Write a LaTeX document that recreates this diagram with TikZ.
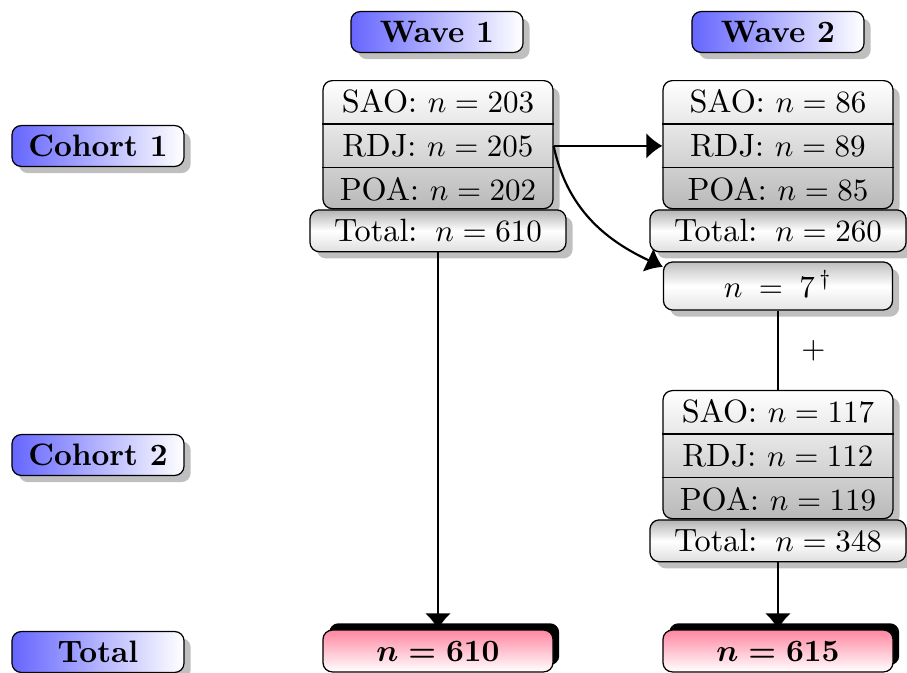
\documentclass[tikz,border=0pt]{standalone}
\usetikzlibrary{shadows,arrows.meta}
\definecolor{pinktop}{RGB}{255,135,162}
\tikzset{
  body/.style={font=\fontsize{10.4pt}{12.5pt}\selectfont},
  hdr/.style={draw, rounded corners=3pt, left color=blue!60, right color=white,
    drop shadow, font=\bfseries, minimum width=55.5pt, minimum height=13.2pt,
    inner sep=0pt, text height=6.8pt, text depth=0pt},
  splitbg/.style={draw, rounded corners=3pt, top color=white, bottom color=gray!55,
    drop shadow, minimum width=74.2pt, minimum height=41.3pt, inner sep=0pt},
  rowbox/.style={body, minimum width=74.2pt, minimum height=13.77pt, inner sep=0pt,
    text height=7.1pt, text depth=0pt},
  sep/.style={line width=0.4pt},
  totbox/.style={body, draw, rounded corners=3pt, top color=gray!60, bottom color=gray!25,
    middle color=white, drop shadow, minimum width=82.6pt, minimum height=13.5pt,
    inner sep=0pt, text height=7.1pt, text depth=0pt},
  sevbox/.style={body, draw, rounded corners=3pt, top color=gray!50, bottom color=gray!20,
    middle color=white, drop shadow, minimum width=73.9pt, minimum height=15.5pt,
    inner sep=0pt, text height=7.1pt, text depth=0pt},
  finbox/.style={draw, rounded corners=3pt, top color=pinktop, bottom color=white,
    drop shadow={shadow xshift=2pt, shadow yshift=2.2pt, opacity=1, fill=black},
    minimum width=74.2pt, minimum height=13.5pt, inner sep=0pt,
    font=\boldmath\bfseries, text height=6.5pt, text depth=0pt},
  arr/.style={line width=0.7pt, -{Latex[length=5.2pt,width=8.4pt]}},
}
\newcommand\mysplit[5]{%
  \node[splitbg, anchor=north] (#1) at (#2) {};
  \node[rowbox, anchor=north] (#1a) at (#1.north) {#3};
  \node[rowbox, anchor=north] (#1b) at (#1a.south) {#4};
  \node[rowbox, anchor=north] (#1c) at (#1b.south) {#5};
  \draw[sep] (#1a.south west) -- (#1a.south east);
  \draw[sep] (#1b.south west) -- (#1b.south east);
}
\begin{document}
\begin{tikzpicture}[x=0.3226pt,y=-0.3226pt]
\useasboundingbox (0,0) rectangle (907,673);

% headers
\node[hdr] (wave1) at (437,32) {Wave 1};
\node[hdr] (wave2) at (778,32) {Wave 2};
\node[hdr] (coh1) at (98,146) {Cohort 1};
\node[hdr] (coh2) at (98,455) {Cohort 2};
\node[hdr] (tot) at (98,652) {Total};

% cohort 1, wave 1
\mysplit{wa}{438,80}{SAO: $n = 203$}{RDJ: $n = 205$}{POA: $n = 202$}
\node[totbox, anchor=north] (wat) at (wa.south) {Total:\hspace{1.2pt} $n = 610$};

% cohort 1, wave 2
\mysplit{wb}{778,80}{SAO: $n = 86$}{RDJ: $n = 89$}{POA: $n = 85$}
\node[totbox, anchor=north] (wbt) at (wb.south) {Total:\hspace{1.2pt} $n = 260$};

% n = 7
\node[sevbox] (n7) at (778,286) {$n$\hspace{5.3pt}$=$\hspace{5.3pt}$7^{\,\dagger}$};

% cohort 2, wave 2
\mysplit{wc}{778,390}{SAO: $n = 117$}{RDJ: $n = 112$}{POA: $n = 119$}
\node[totbox, anchor=north] (wct) at (wc.south) {Total:\hspace{1.2pt} $n = 348$};

% finals
\node[finbox] (f1) at (438,651) {$n = 610$};
\node[finbox] (f2) at (778,651) {$n = 615$};

% connectors
\coordinate (n7in) at ([yshift=-1.8pt]n7.north west);
\draw[arr] (wab.east) -- (wbb.west);
\draw[arr] (wab.east) to[out=-78,in=155] (n7in);
\draw[line width=0.4pt] (n7.south) -- node[right=4pt, body] {$+$} (wc.north);
\draw[arr] (wat.south) -- (f1.north);
\draw[arr] (wct.south) -- (f2.north);
\end{tikzpicture}
\end{document}
